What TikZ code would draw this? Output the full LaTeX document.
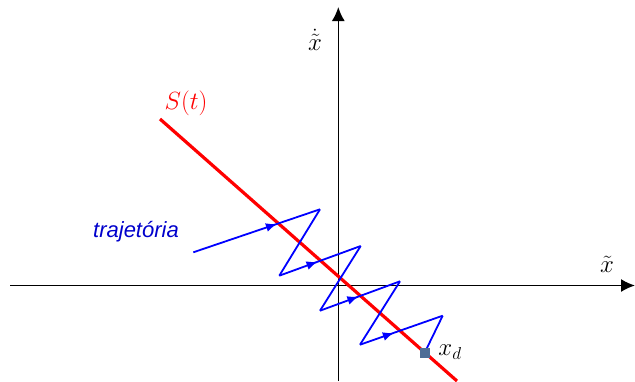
\documentclass[tikz,border=0pt]{standalone}
\usepackage{fontspec}
\usetikzlibrary{arrows.meta,decorations.markings}
\newfontfamily\labelsans{Liberation Sans}
\tikzset{
  axis/.style={line width=1.6pt, black, -{Latex[length=14pt,width=13pt]}},
  sline/.style={line width=3.2pt, red},
  traj/.style={line width=1.8pt, blue, line join=miter},
  midarrow/.style={postaction={decorate},decoration={markings,mark=at position #1 with {\arrow{Latex[length=11pt,width=9pt]}}}},
  lbl/.style={inner sep=0pt, font=\fontsize{25}{30}\selectfont},
}
\begin{document}
\begin{tikzpicture}[x=1pt,y=-1pt]
\useasboundingbox (0,0) rectangle (635,381);
% axes
\coordinate (xl) at (10,285.5);
\coordinate (xr) at (635,285.5);
\coordinate (yb) at (338.3,381);
\coordinate (yt) at (338.3,7);
\draw[axis] (xl) -- (xr);
\draw[axis] (yb) -- (yt);
% sliding line
\coordinate (s1) at (160,119);
\coordinate (s2) at (457,381);
\draw[sline] (s1) -- (s2);
% trajectory points
\coordinate (p0) at (193.3,252.3);
\coordinate (p1) at (320,209.3);
\coordinate (p2) at (279.3,275.7);
\coordinate (p3) at (360.7,246);
\coordinate (p4) at (320,310.7);
\coordinate (p5) at (400,281.3);
\coordinate (p6) at (360,344.7);
\coordinate (p7) at (442.7,315.7);
\coordinate (p8) at (424.5,353);
\draw[traj, midarrow=0.66] (p0) -- (p1);
\draw[traj] (p1) -- (p2);
\draw[traj, midarrow=0.47] (p2) -- (p3);
\draw[traj] (p3) -- (p4);
\draw[traj, midarrow=0.48] (p4) -- (p5);
\draw[traj] (p5) -- (p6);
\draw[traj, midarrow=0.41] (p6) -- (p7);
\draw[traj] (p7) -- (p8);
% target point
\node[fill={rgb,255:red,79;green,109;blue,150}, minimum size=10pt, inner sep=0pt] (xd) at (p8) {};
% labels
\node[lbl] (xdl) at (450,352) {$x_d$};
\node[lbl, red] (sl) at (186,103) {$S(t)$};
\node[lbl] (ydl) at (315,40) {$\dot{\tilde{x}}$};
\node[lbl] (xtl) at (607,264) {$\tilde{x}$};
\node[inner sep=0pt, blue!80!black, font=\labelsans\itshape\fontsize{22}{26}\selectfont] (trl) at (136,232) {trajetória};
\end{tikzpicture}
\end{document}
